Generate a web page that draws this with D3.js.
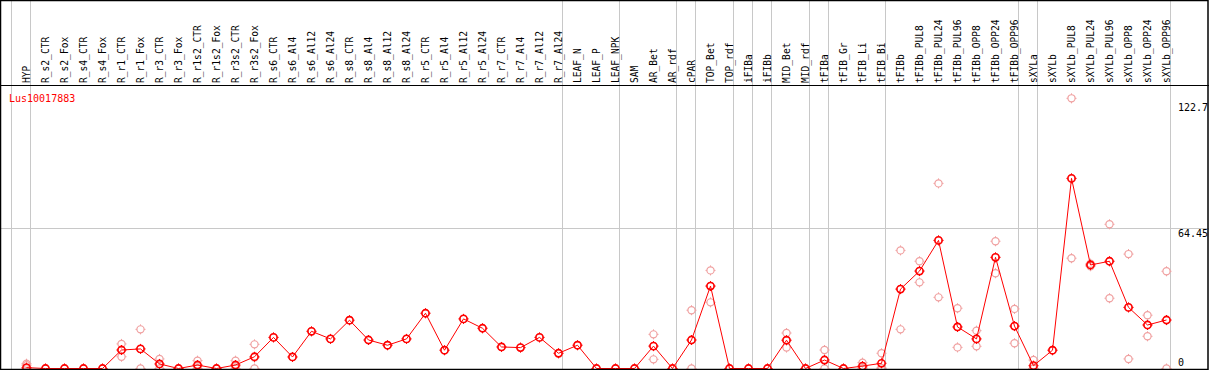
<!DOCTYPE html>
<html>
<head>
<meta charset="utf-8">
<script src="https://cdn.jsdelivr.net/npm/d3@7"></script>
<style>
  body { margin: 0; background: #fff; }
  svg { display: block; }
  text { font-family: "DejaVu Sans Mono", "Liberation Mono", monospace; }
</style>
</head>
<body>
<svg id="chart" width="1209" height="370"></svg>
<script>
// sample labels, left to right
const samples = ["HYP",
  "R_s2_CTR", "R_s2_Fox", "R_s4_CTR", "R_s4_Fox", "R_r1_CTR", "R_r1_Fox", "R_r3_CTR", "R_r3_Fox",
  "R_r1s2_CTR", "R_r1s2_Fox", "R_r3s2_CTR", "R_r3s2_Fox",
  "R_s6_CTR", "R_s6_Al4", "R_s6_Al12", "R_s6_Al24", "R_s8_CTR", "R_s8_Al4", "R_s8_Al12", "R_s8_Al24",
  "R_r5_CTR", "R_r5_Al4", "R_r5_Al12", "R_r5_Al24", "R_r7_CTR", "R_r7_Al4", "R_r7_Al12", "R_r7_Al24",
  "LEAF_N", "LEAF_P", "LEAF_NPK", "SAM", "AR_Bet", "AR_rdf", "cPAR", "TOP_Bet", "TOP_rdf",
  "iFIBa", "iFIBb", "MID_Bet", "MID_rdf", "tFIBa", "tFIB_Gr", "tFIB_Li", "tFIB_Bi",
  "tFIBb", "tFIBb_PUL8", "tFIBb_PUL24", "tFIBb_PUL96", "tFIBb_OPP8", "tFIBb_OPP24", "tFIBb_OPP96",
  "sXYLa", "sXYLb", "sXYLb_PUL8", "sXYLb_PUL24", "sXYLb_PUL96", "sXYLb_OPP8", "sXYLb_OPP24", "sXYLb_OPP96"];

// number of samples in each tissue group (gray separators between them)
const groupSizes = [1, 28, 3, 3, 1, 2, 1, 1, 2, 1, 3, 7, 1, 7];

const geneName = "Lus10017883";

// mean expression per sample
const means = [0.4, 0, 0, 0, 0, 8.5, 9.0, 2.1, 0, 1.6, 0, 1.6, 5.4,
  14.3, 5.3, 17.1, 13.6, 22.2, 13.1, 10.7, 13.6, 25.4, 8.4, 22.8, 18.5, 9.9, 9.6, 14.3, 7.0,
  10.7, 0, 0, 0, 10.3, 0, 13.1, 37.9, 0, 0, 0, 13.0, 0, 3.9, 0, 1.1, 2.4,
  36.5, 44.8, 58.9, 19.1, 13.6, 51.1, 19.5, 1.3, 8.4, 87.4, 47.6, 49.3, 28.1, 20.0, 22.3];

// individual replicates per sample
const replicates = [[0, 1.5, 2.2], [0], [0], [0], [0], [11.3, 8.5, 5.4], [18.0, 9.0, 0], [4.4, 2.0, 0],
  [0], [3.6, 1.2, 0], [0], [3.6, 1.2, 0], [11.1, 5.0, 0],
  [14.3], [5.3], [17.1], [13.6], [22.2], [13.1], [10.7], [13.6], [25.4], [8.4], [22.8], [18.5],
  [9.9], [9.6], [14.3], [7.0],
  [10.7], [0], [0], [0], [15.7, 10.3, 4.2], [0], [26.8, 13.1, 0], [45.1, 37.9, 30.4], [0],
  [0], [0], [16.3, 13.0, 9.6], [0], [8.5, 3.9, 0], [0], [2.7, 0.6, 0], [7.0, 0.3, 0],
  [54.3, 36.5, 18.0], [49.3, 44.8, 39.6], [85.1, 58.9, 32.7], [27.7, 19.1, 9.7], [17.4, 13.6, 10.2],
  [58.5, 51.1, 43.8], [27.4, 19.5, 11.6],
  [3.9, 0, 0], [8.4], [124.2, 87.4, 50.7], [47.0, 48.2], [66.3, 49.3, 32.3], [52.6, 28.1, 4.4],
  [24.5, 20.0, 14.8], [44.7, 22.2, 0]];

const yTicks = [0, 64.45, 122.7];

const W = 1209, H = 370;
const headerY = 85, bottomY = 369;
const svg = d3.select("#chart");

// x: one 19px column per sample
const x = d3.scaleBand().domain(samples).range([11.5, 11.5 + samples.length * 19]);
const px = d => x(d) + 15;
// y: linear expression
const y = d3.scaleLinear().domain([0, 122.7]).range([368.5, 101.6]);

// gray grid: horizontal mid line and group separators
svg.append("line")
  .attr("x1", 0).attr("x2", W).attr("y1", Math.round(y(64.45)) + 0.5).attr("y2", Math.round(y(64.45)) + 0.5)
  .attr("stroke", "#c8c8c8");

let bounds = [0];
groupSizes.reduce((acc, n) => { bounds.push(acc + n); return acc + n; }, 0);
svg.selectAll("line.sep").data(bounds).join("line")
  .attr("class", "sep")
  .attr("x1", i => Math.round(11 + i * x.bandwidth()) + 0.5)
  .attr("x2", i => Math.round(11 + i * x.bandwidth()) + 0.5)
  .attr("y1", 0).attr("y2", bottomY)
  .attr("stroke", "#c8c8c8");

// header labels, rotated
svg.append("g").selectAll("text").data(samples).join("text")
  .attr("transform", d => `translate(${x(d) + 18.5},83) rotate(-90)`)
  .attr("font-size", "9.6px")
  .attr("fill", "#000")
  .text(d => d);

// y tick labels on the right
svg.append("g").selectAll("text").data(yTicks).join("text")
  .attr("x", 1178)
  .attr("y", d => y(d) + (d === 0 ? -3 : 9))
  .attr("font-size", "10px")
  .attr("fill", "#000")
  .text(d => d);

svg.append("text")
  .attr("x", 9).attr("y", 102)
  .attr("font-size", "10px")
  .attr("fill", "#ff0000")
  .text(geneName);

// marker: circle with small ticks at N/E/S/W
function marker(g, cx, cy, color, sw) {
  const m = g.append("g").attr("transform", `translate(${cx},${cy})`)
    .attr("stroke", color).attr("fill", "none");
  m.append("circle").attr("r", 3.6).attr("stroke-width", sw);
  [[0, -1], [1, 0], [0, 1], [-1, 0]].forEach(([dx, dy]) => {
    m.append("line")
      .attr("x1", dx * 3.6).attr("y1", dy * 3.6)
      .attr("x2", dx * 5).attr("y2", dy * 5)
      .attr("stroke-width", 1);
  });
}

const plot = svg.append("g");
const repLayer = plot.append("g");
samples.forEach((s, i) => {
  replicates[i].forEach(v => marker(repLayer, px(s), y(v), "#f0a0a0", 1.2));
});

const line = d3.line().x((d, i) => px(samples[i])).y(d => y(d));
plot.append("path")
  .datum(means)
  .attr("d", line)
  .attr("fill", "none")
  .attr("stroke", "#ff0000")
  .attr("stroke-width", 1);

const meanLayer = plot.append("g");
samples.forEach((s, i) => marker(meanLayer, px(s), y(means[i]), "#ff0000", 1.6));

// frame and header rule
svg.append("line").attr("x1", 0).attr("x2", W).attr("y1", headerY + 0.5).attr("y2", headerY + 0.5)
  .attr("stroke", "#000");
svg.append("rect")
  .attr("x", 0.5).attr("y", 0.5).attr("width", W - 1.5).attr("height", bottomY)
  .attr("fill", "none").attr("stroke", "#000").attr("stroke-width", 1.5);
</script>
</body>
</html>
